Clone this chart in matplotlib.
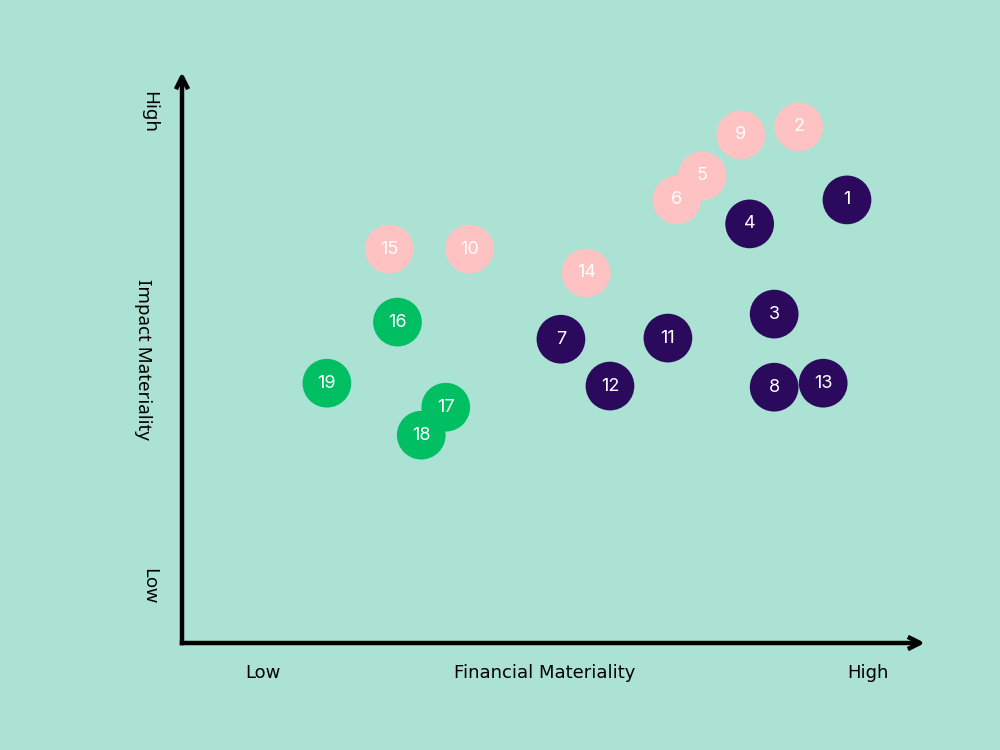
import matplotlib.pyplot as plt

# topic numbers and positions on a 0-10 scale (financial, impact)
labels = ['1', '2', '3', '4', '5', '6', '7', '8', '9', '10',
          '11', '12', '13', '14', '15', '16', '17', '18', '19']
financial = [8.95, 8.30, 7.97, 7.64, 7.00, 6.66, 5.10, 7.97, 7.52, 3.87,
             6.54, 5.76, 8.63, 5.44, 2.79, 2.90, 3.55, 3.22, 1.95]
impact = [7.76, 9.04, 5.76, 7.34, 8.18, 7.76, 5.32, 4.48, 8.90, 6.90,
          5.34, 4.50, 4.55, 6.48, 6.90, 5.62, 4.13, 3.64, 4.55]
group = ['dark', 'pink', 'dark', 'dark', 'pink', 'pink', 'dark', 'dark', 'pink', 'pink',
         'dark', 'dark', 'dark', 'pink', 'pink', 'green', 'green', 'green', 'green']

colors = {'dark': '#2B0A5E', 'pink': '#FFC2C2', 'green': '#00BF63'}
bg = '#ABE2D3'

fig = plt.figure(figsize=(10, 7.5), dpi=100)
fig.patch.set_facecolor(bg)
ax = fig.add_axes([0.182, 1 - 643 / 750, 0.743, 571 / 750])
ax.set_facecolor(bg)
ax.set_xlim(0, 10)
ax.set_ylim(0, 10)
ax.axis('off')

for lab, x, y, g in zip(labels, financial, impact, group):
    ax.scatter(x, y, s=1230, color=colors[g], edgecolors='none', clip_on=False, zorder=2)
    ax.text(x, y, lab, color='white', ha='center', va='center', fontsize=13,
            family=['Inter', 'DejaVu Sans'], zorder=3)

# axes arrows
arrow = dict(arrowstyle='->', lw=3.2, color='black', mutation_scale=22,
             shrinkA=0, shrinkB=0, capstyle='butt')
ax.annotate('', xy=(10, 0), xytext=(-0.03, 0), arrowprops=arrow, annotation_clip=False)
ax.annotate('', xy=(0, 10), xytext=(0, -0.04), arrowprops=arrow, annotation_clip=False)

bottom = ['DejaVu Sans']
fig.text(0.263, 1 - 673 / 750, 'Low', ha='center', va='center', fontsize=13, family=bottom)
fig.text(0.545, 1 - 673 / 750, 'Financial Materiality', ha='center', va='center',
         fontsize=13, family=bottom)
fig.text(0.868, 1 - 673 / 750, 'High', ha='center', va='center', fontsize=13, family=bottom)

side = ['Noto Sans', 'DejaVu Sans']
fig.text(0.149, 1 - 112 / 750, 'High', ha='center', va='center', rotation=270,
         fontsize=13.5, family=side)
fig.text(0.143, 1 - 359 / 750, 'Impact Materiality', ha='center', va='center',
         rotation=270, fontsize=13.5, family=side)
fig.text(0.149, 1 - 586 / 750, 'Low', ha='center', va='center', rotation=270,
         fontsize=13.5, family=side)

fig.savefig('out.png', dpi=100, facecolor=bg)
